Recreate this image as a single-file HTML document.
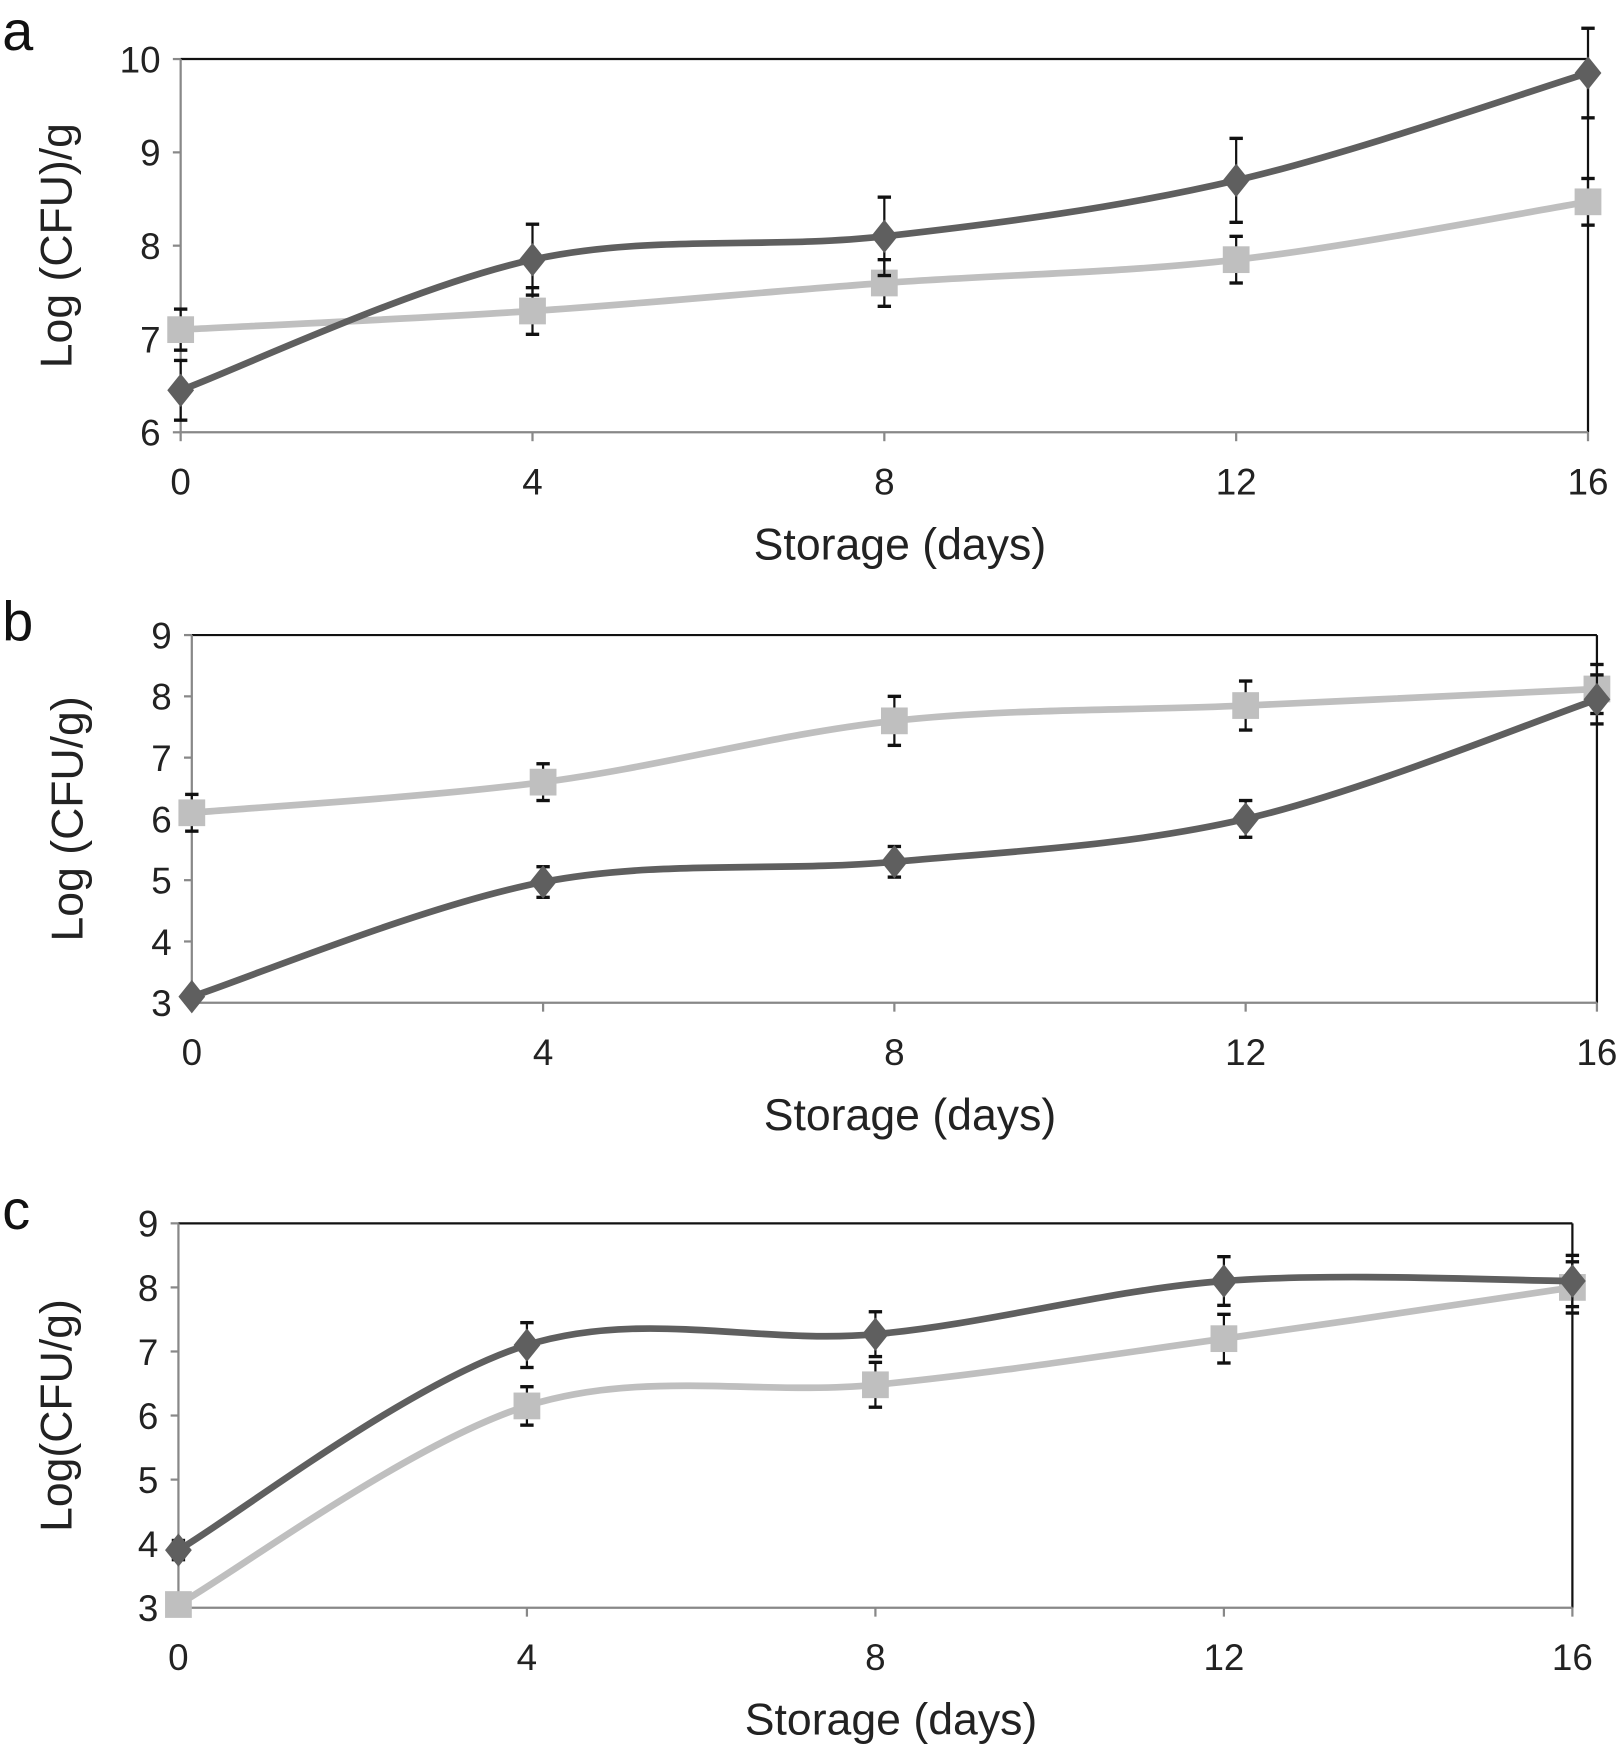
<!DOCTYPE html>
<html><head><meta charset="utf-8"><style>
html,body{margin:0;padding:0;background:#fff;}
svg{display:block;font-family:"Liberation Sans",sans-serif;}
</style></head><body>
<svg id="chart" width="1617" height="1747" viewBox="0 0 1450 1568" preserveAspectRatio="none" xmlns="http://www.w3.org/2000/svg"></svg>
<script>
const days = [0, 4, 8, 12, 16];
const aDark = [6.45, 7.85, 8.1, 8.7, 9.85];
const aDarkErr = [0.32, 0.38, 0.42, 0.45, 0.48];
const aLight = [7.1, 7.3, 7.6, 7.85, 8.47];
const aLightErr = [0.22, 0.25, 0.25, 0.25, 0.25];
const bDark = [3.1, 4.97, 5.3, 6.0, 7.95];
const bDarkErr = [0.05, 0.25, 0.25, 0.3, 0.4];
const bLight = [6.1, 6.6, 7.6, 7.85, 8.12];
const bLightErr = [0.3, 0.3, 0.4, 0.4, 0.4];
const cDark = [3.9, 7.1, 7.27, 8.1, 8.1];
const cDarkErr = [0.15, 0.35, 0.35, 0.38, 0.4];
const cLight = [3.05, 6.15, 6.48, 7.2, 8.0];
const cLightErr = [0.05, 0.3, 0.35, 0.38, 0.4];
const aTicks = [6, 7, 8, 9, 10];
const bTicks = [3, 4, 5, 6, 7, 8, 9];
const cTicks = [3, 4, 5, 6, 7, 8, 9];

const NS = 'http://www.w3.org/2000/svg';
const svg = document.getElementById('chart');
function mk(tag, attrs, parent) {
  const e = document.createElementNS(NS, tag);
  for (const k in attrs) e.setAttribute(k, attrs[k]);
  (parent || svg).appendChild(e);
  return e;
}
function smooth(pts) {
  let d = 'M' + pts[0][0] + ',' + pts[0][1];
  for (let i = 0; i < pts.length - 1; i++) {
    const p0 = pts[Math.max(0, i - 1)], p1 = pts[i], p2 = pts[i + 1], p3 = pts[Math.min(pts.length - 1, i + 2)];
    const c1 = [p1[0] + (p2[0] - p0[0]) / 6, p1[1] + (p2[1] - p0[1]) / 6];
    const c2 = [p2[0] - (p3[0] - p1[0]) / 6, p2[1] - (p3[1] - p1[1]) / 6];
    d += ' C' + c1.join(',') + ' ' + c2.join(',') + ' ' + p2.join(',');
  }
  return d;
}
function panel(p) {
  const g = mk('g', {});
  
  
  const xs = v => p.x0 + (v - 0) / 16 * (p.x1 - p.x0);
  const ys = v => p.yb - (v - p.ymin) / (p.ymax - p.ymin) * (p.yb - p.yt);
  mk('line', {x1: p.x0, y1: p.yt, x2: p.x1, y2: p.yt, stroke: '#111', 'stroke-width': 2}, g);
  mk('line', {x1: p.x1, y1: p.yt, x2: p.x1, y2: p.yb, stroke: '#111', 'stroke-width': 2}, g);
  mk('line', {x1: p.x0, y1: p.yt, x2: p.x0, y2: p.yb, stroke: '#888', 'stroke-width': 2}, g);
  mk('line', {x1: p.x0, y1: p.yb, x2: p.x1, y2: p.yb, stroke: '#888', 'stroke-width': 2}, g);
  p.ticks.forEach(t => {
    mk('line', {x1: p.x0 - 7, y1: ys(t), x2: p.x0, y2: ys(t), stroke: '#888', 'stroke-width': 2}, g);
    const tx = mk('text', {x: p.x0 - 18, y: ys(t) + 12, 'font-size': 33, 'text-anchor': 'end', fill: '#222'}, g);
    tx.textContent = t;
    
    
  });
  days.forEach(d => {
    mk('line', {x1: xs(d), y1: p.yb, x2: xs(d), y2: p.yb + 8, stroke: '#888', 'stroke-width': 2}, g);
    const tx = mk('text', {x: xs(d), y: p.yb + 56, 'font-size': 33, 'text-anchor': 'middle', fill: '#222'}, g);
    tx.textContent = d;
    
    
  });
  const xt = mk('text', {x: (p.x0 + p.x1) / 2 + 14, y: p.yb + 114, 'font-size': 40, 'text-anchor': 'middle', fill: '#222'}, g);
  xt.textContent = 'Storage (days)';
  
  
  const cy = (p.yt + p.yb) / 2;
  const yt = mk('text', {x: 0, y: 0, 'font-size': 40, 'text-anchor': 'middle', fill: '#222', transform: 'translate(' + p.ytx + ',' + cy + ') rotate(-90)'}, g);
  yt.textContent = p.ytitle;
  
  
  const lb = mk('text', {x: 2, y: p.yt + p.lby, 'font-size': 50, fill: '#111'}, g);
  lb.textContent = p.label;
  
  
  const series = [
    {vals: p.light, err: p.lightErr, color: '#bfbfbf', kind: 'square', name: 'light-series'},
    {vals: p.dark, err: p.darkErr, color: '#5f5f5f', kind: 'diamond', name: 'dark-series'}
  ];
  series.forEach(s => {
    const pts = s.vals.map((v, i) => [xs(days[i]), ys(v)]);
    const path = mk('path', {d: smooth(pts), fill: 'none', stroke: s.color, 'stroke-width': 6}, g);
    
    
    s.vals.forEach((v, i) => {
      const x = xs(days[i]), y1 = ys(v + s.err[i]), y2 = ys(v - s.err[i]);
      mk('line', {x1: x, y1: y1, x2: x, y2: y2, stroke: '#111', 'stroke-width': 2}, g);
      mk('line', {x1: x - 6, y1: y1, x2: x + 6, y2: y1, stroke: '#111', 'stroke-width': 3}, g);
      mk('line', {x1: x - 6, y1: y2, x2: x + 6, y2: y2, stroke: '#111', 'stroke-width': 3}, g);
      const y = ys(v);
      let m;
      if (s.kind === 'square') m = mk('rect', {x: x - 12, y: y - 12, width: 24, height: 24, fill: s.color}, g);
      else m = mk('polygon', {points: (x) + ',' + (y - 15) + ' ' + (x + 12) + ',' + y + ' ' + x + ',' + (y + 15) + ' ' + (x - 12) + ',' + y, fill: s.color}, g);
      
      
    });
  });
}
panel({label: 'a', x0: 162, x1: 1424, yt: 53, yb: 388, ymin: 6, ymax: 10, ticks: aTicks, ytitle: 'Log (CFU)/g', ytx: 64, lby: -8,
  dark: aDark, darkErr: aDarkErr, light: aLight, lightErr: aLightErr});
panel({label: 'b', x0: 172, x1: 1432, yt: 570, yb: 900, ymin: 3, ymax: 9, ticks: bTicks, ytitle: 'Log (CFU/g)', ytx: 74, lby: 5,
  dark: bDark, darkErr: bDarkErr, light: bLight, lightErr: bLightErr});
panel({label: 'c', x0: 160, x1: 1410, yt: 1098, yb: 1443, ymin: 3, ymax: 9, ticks: cTicks, ytitle: 'Log(CFU/g)', ytx: 64, lby: 5,
  dark: cDark, darkErr: cDarkErr, light: cLight, lightErr: cLightErr});
</script>
</body></html>
